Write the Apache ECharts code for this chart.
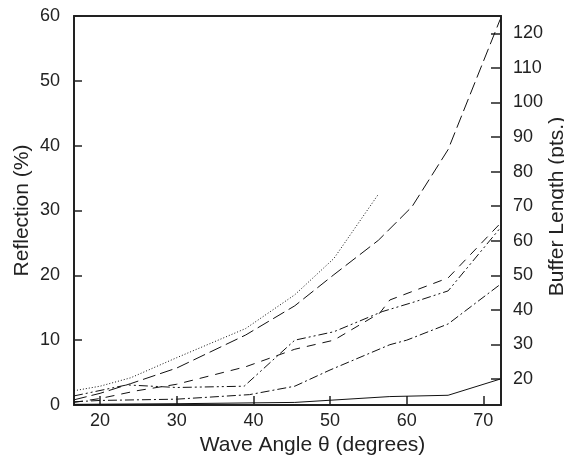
<!DOCTYPE html>
<html>
<head>
<meta charset="utf-8">
<script src="https://cdn.jsdelivr.net/npm/echarts@6/dist/echarts.min.js"></script>
<style>
html,body{margin:0;padding:0;background:#fff;overflow:hidden;width:564px;height:458px;}
#c{width:564px;height:458px;overflow:hidden;}
</style>
</head>
<body>
<div id="c"></div>
<script>
// Tick labels
const xTicks = [20, 30, 40, 50, 60, 70];
const rightTicks = [20, 30, 40, 50, 60, 70, 80, 90, 100, 110, 120];

// Series values (x = wave angle in degrees, y = reflection %)
const dottedX = [16.6, 20, 24, 30, 39, 45.4, 50.5, 56.3];
const dottedY = [2.2, 2.9, 4.2, 7.3, 11.8, 17.0, 22.6, 32.5];

const longDashX = [16.6, 20, 24, 30, 39, 45.4, 50.5, 56.3, 60.7, 65.4, 72.2];
const longDashY = [0.8, 1.8, 3.3, 5.7, 10.8, 15.3, 20.1, 25.4, 30.6, 39.4, 59.5];

const shortDashX = [16.6, 20, 24.8, 30, 39, 45.4, 50.5, 56.5, 57.8, 65.4, 72.2];
const shortDashY = [0.4, 1.0, 2.2, 3.2, 5.9, 8.6, 10.0, 14.2, 16.2, 19.6, 28.0];

const dashDotDotX = [16.6, 23.5, 30, 38.8, 45.4, 50.5, 56.8, 61, 65.4, 72.2];
const dashDotDotY = [1.4, 3.1, 2.7, 2.9, 10.0, 11.3, 14.4, 15.9, 17.6, 27.3];

const dashDotX = [16.6, 20, 30, 39.5, 45.4, 50, 57.8, 60, 65.4, 72.2];
const dashDotY = [0.5, 0.7, 0.9, 1.6, 2.9, 5.4, 9.3, 10.0, 12.5, 18.6];

const solidX = [16.6, 30, 45.4, 57.8, 65.4, 72.2];
const solidY = [0.1, 0.2, 0.4, 1.3, 1.5, 4.0];

function pairs(xs, ys) { return xs.map((x, i) => [x, ys[i]]); }

const FONT = 'Liberation Sans';
const TXT = '#222';
const AX = '#222';

function mk(name, xs, ys, type) {
  return {
    name: name, type: 'line', xAxisIndex: 0, yAxisIndex: 0,
    data: pairs(xs, ys), showSymbol: false, symbol: 'none',
    lineStyle: { color: '#111', width: 1, type: type },
    z: 3
  };
}

const chart = echarts.init(document.getElementById('c'), null, { renderer: 'canvas', width: 564, height: 458 });
chart.setOption({
  animation: false,
  backgroundColor: '#fff',
  grid: { left: 74, right: 63, top: 16, bottom: 53, containLabel: false, outerBoundsMode: 'none' },
  xAxis: [
    {
      type: 'value', position: 'bottom', min: 16.6, max: 72.3,
      axisLine: { show: true, onZero: false, lineStyle: { color: AX, width: 2 } },
      axisTick: { show: true, inside: true, length: 9, customValues: xTicks, lineStyle: { color: AX, width: 1.5 } },
      axisLabel: { customValues: xTicks, fontSize: 18, color: TXT, margin: 7, fontFamily: FONT },
      splitLine: { show: false },
      name: 'Wave Angle θ (degrees)', nameLocation: 'middle', nameGap: 25,
      nameTextStyle: { fontSize: 21, color: TXT, fontFamily: FONT, padding: [0, 0, 0, 50] }
    },
    {
      type: 'value', position: 'top', min: 16.6, max: 72.3,
      axisLine: { show: true, onZero: false, lineStyle: { color: AX, width: 2 } },
      axisTick: { show: false }, axisLabel: { show: false }, splitLine: { show: false }
    }
  ],
  yAxis: [
    {
      type: 'value', position: 'left', min: 0, max: 60, interval: 10,
      axisLine: { show: true, onZero: false, lineStyle: { color: AX, width: 2 } },
      axisTick: { show: true, inside: true, length: 8, lineStyle: { color: AX, width: 1.5 } },
      axisLabel: { fontSize: 18, color: TXT, margin: 14, fontFamily: FONT },
      splitLine: { show: false },
      name: 'Reflection (%)', nameLocation: 'middle', nameGap: 41, nameRotate: 90,
      nameMoveOverlap: false,
      nameTextStyle: { fontSize: 21, color: TXT, fontFamily: FONT }
    },
    {
      type: 'value', position: 'right', min: 12.5, max: 125,
      axisLine: { show: true, onZero: false, lineStyle: { color: AX, width: 2 } },
      axisTick: { show: true, inside: true, length: 10, customValues: rightTicks, lineStyle: { color: AX, width: 1.5 } },
      axisLabel: { customValues: rightTicks, fontSize: 18, color: TXT, margin: 12, fontFamily: FONT },
      splitLine: { show: false },
      name: 'Buffer Length (pts.)', nameLocation: 'middle', nameGap: 46, nameRotate: 90,
      nameMoveOverlap: false,
      nameTextStyle: { fontSize: 21, color: TXT, fontFamily: FONT, padding: [0, 0, 0, 8] }
    }
  ],
  series: [
    mk('dotted', dottedX, dottedY, [1, 2]),
    mk('longDash', longDashX, longDashY, [13, 5]),
    mk('shortDash', shortDashX, shortDashY, [9, 7]),
    mk('dashDotDot', dashDotDotX, dashDotDotY, [9, 3, 2, 3, 2, 3]),
    mk('dashDot', dashDotX, dashDotY, [9, 3, 2, 3]),
    mk('solid', solidX, solidY, 'solid')
  ]
});
</script>
</body>
</html>
